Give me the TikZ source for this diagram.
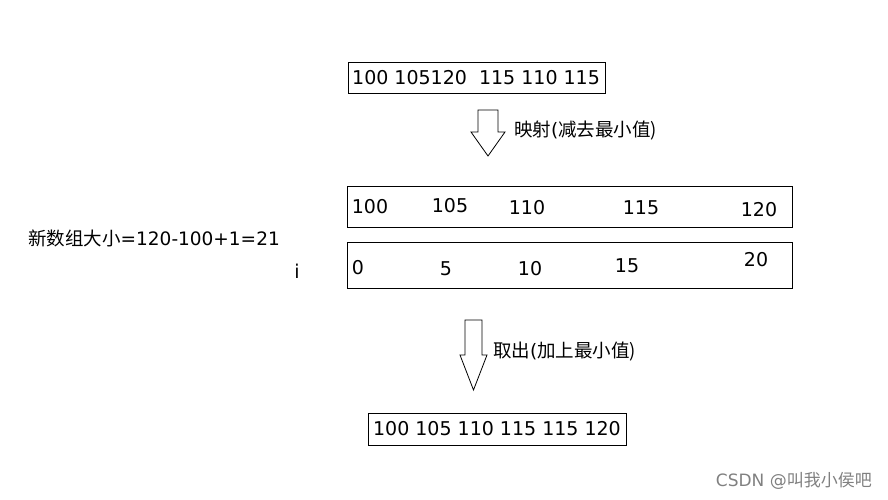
\documentclass[tikz,border=0pt]{standalone}
\usepackage{fontspec}
\setmainfont{DejaVu Sans}
\newfontfamily\cjk{Noto Sans CJK SC}
\begin{document}
\begin{tikzpicture}[x=1pt,y=-1pt,
  box/.style={draw,line width=0.8pt},
  t/.style={inner sep=0pt,font=\fontsize{19}{22}\selectfont},
  lbl/.style={inner sep=0pt,anchor=west,font=\fontsize{18.5}{22}\selectfont},
  harrow/.style={draw,line width=0.8pt,fill=white}]
\useasboundingbox (0,0) rectangle (888,500);
\draw[box] (348,62) rectangle (605,93);
\node[t,anchor=west] (top) at (352,78) {100 105120\ \ 115 110 115};
\draw[harrow] (478,110) -- (498,110) -- (498,132) -- (505,132) -- (488,156) -- (471,132) -- (478,132) -- cycle;
\node[lbl] (l1) at (514,131) {{\cjk 映射}(\cjk 减去最小值)};
\draw[box] (347,186) rectangle (792,227);
\node[t] (a1) at (370,207) {100};
\node[t] (a2) at (450,206) {105};
\node[t] (a3) at (527,208) {110};
\node[t] (a4) at (641,208) {115};
\node[t] (a5) at (759,210) {120};
\draw[box] (347,242) rectangle (792,288);
\node[t] (b1) at (358,268) {0};
\node[t] (b2) at (446,269) {5};
\node[t] (b3) at (530,269) {10};
\node[t] (b4) at (627,266) {15};
\node[t] (b5) at (756,260) {20};
\node[lbl] (sz) at (28,238) {{\cjk 新数组大小}=120-100+1=21};
\node[t] (i) at (297,271) {i};
\draw[harrow] (465,320) -- (482,320) -- (482,355) -- (487,355) -- (473.5,390) -- (460,355) -- (465,355) -- cycle;
\node[lbl] (l2) at (493,352) {{\cjk 取出}(\cjk 加上最小值)};
\draw[box] (368,413) rectangle (626,445);
\node[t] (bot) at (497,429) {100 105 110 115 115 120};
\node[inner sep=0pt,anchor=east,text=gray,font=\fontsize{17}{18}\selectfont] (wm) at (872,481) {CSDN @{\cjk 叫我小侯吧}};
\end{tikzpicture}
\end{document}
